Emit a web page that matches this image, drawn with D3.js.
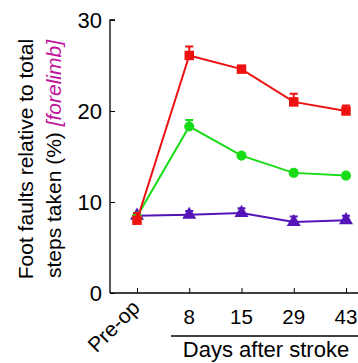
<!DOCTYPE html>
<html>
<head>
<meta charset="utf-8">
<script src="https://cdn.jsdelivr.net/npm/d3@7"></script>
<style>
body { margin: 0; background: #fff; }
svg { font-family: "Liberation Sans", Arial, sans-serif; }
</style>
</head>
<body>
<div id="main"></div>
<script>
// days after stroke
var categories = ["Pre-op", "8", "15", "29", "43"];
var yTicks = [0, 10, 20, 30];

// series values (mean, error)
var redMean = [8.0, 26.1, 24.6, 21.0, 20.0];
var redErr = [0.8, 1.0, 0.3, 0.9, 0.6];
var greenMean = [8.4, 18.3, 15.1, 13.2, 12.9];
var greenErr = [0.3, 0.7, 0.2, 0.2, 0.2];
var purpleMean = [8.5, 8.6, 8.8, 7.8, 8.0];
var purpleErr = [0.3, 0.4, 0.5, 0.6, 0.5];

var width = 358, height = 363;

var svg = d3.select("#main")
	.append("svg")
	.attr("width", width)
	.attr("height", height);

var x = d3.scalePoint()
	.domain(categories)
	.range([137, 346]);

var y = d3.scaleLinear()
	.domain([0, 30])
	.range([293, 20]);

// axes
svg.append("g")
	.attr("transform", "translate(110,0)")
	.call(d3.axisRight(y).tickValues(yTicks).tickSize(5).tickFormat(""))
	.call(g => g.select(".domain").attr("d", "M5,20H0V293"))
	.selectAll("line").attr("stroke", "#000");

svg.append("g")
	.attr("transform", "translate(0,293)")
	.call(d3.axisTop(x).tickSize(5).tickFormat(""))
	.call(g => g.select(".domain").attr("d", "M110,0H360"));

svg.selectAll(".domain").attr("stroke", "#000").attr("stroke-width", 1.3);

// y tick labels
svg.append("g")
	.selectAll("text")
	.data(yTicks)
	.join("text")
	.attr("x", 102)
	.attr("y", d => y(d) + 8)
	.attr("text-anchor", "end")
	.attr("font-size", 22)
	.text(d => d);

// x tick labels
svg.append("g")
	.selectAll("text")
	.data(categories.slice(1))
	.join("text")
	.attr("x", d => x(d))
	.attr("y", 324)
	.attr("text-anchor", "middle")
	.attr("font-size", 20.5)
	.text(d => d);

svg.append("text")
	.attr("transform", "translate(141,309) rotate(-45)")
	.attr("text-anchor", "end")
	.attr("font-size", 21)
	.text("Pre-op");

svg.append("line")
	.attr("x1", 171).attr("x2", 358)
	.attr("y1", 336).attr("y2", 336)
	.attr("stroke", "#000").attr("stroke-width", 1.3);

svg.append("text")
	.attr("x", 266)
	.attr("y", 357)
	.attr("text-anchor", "middle")
	.attr("font-size", 22)
	.text("Days after stroke");

// y axis title
var yl = svg.append("text")
	.attr("transform", "translate(0,159) rotate(-90)")
	.attr("text-anchor", "middle")
	.attr("font-size", 21);
yl.append("tspan").attr("x", 0).attr("y", 33).text("Foot faults relative to total");
var t2 = yl.append("tspan").attr("x", 0).attr("y", 61);
t2.append("tspan").text("steps taken (%) ");
t2.append("tspan").attr("fill", "#c0149c").attr("font-style", "italic").text("[forelimb]");

// series
var series = [
	{mean: purpleMean, err: purpleErr, color: "#5514b8", shape: d3.symbolTriangle, size: 85},
	{mean: greenMean, err: greenErr, color: "#18dc18", shape: d3.symbolCircle, size: 80},
	{mean: redMean, err: redErr, color: "#ee1111", shape: d3.symbolSquare, size: 90}
];

var line = d3.line()
	.x((d, i) => x(categories[i]))
	.y(d => y(d));

series.forEach(function(s) {
	var g = svg.append("g");
	g.append("path")
		.attr("d", line(s.mean))
		.attr("fill", "none")
		.attr("stroke", s.color)
		.attr("stroke-width", 2);

	var pts = s.mean.map((m, i) => ({c: categories[i], m: m, e: s.err[i]}));

	g.selectAll(".err")
		.data(pts)
		.join("path")
		.attr("class", "err")
		.attr("d", d => "M" + x(d.c) + "," + y(d.m) + "V" + y(d.m + d.e) +
			"M" + (x(d.c) - 4) + "," + y(d.m + d.e) + "H" + (x(d.c) + 4))
		.attr("stroke", s.color)
		.attr("stroke-width", 2)
		.attr("fill", "none");

	g.selectAll(".pt")
		.data(pts)
		.join("path")
		.attr("class", "pt")
		.attr("transform", d => "translate(" + x(d.c) + "," + y(d.m) + ")")
		.attr("d", d3.symbol().type(s.shape).size(s.size))
		.attr("fill", s.color);
});
</script>
</body>
</html>
